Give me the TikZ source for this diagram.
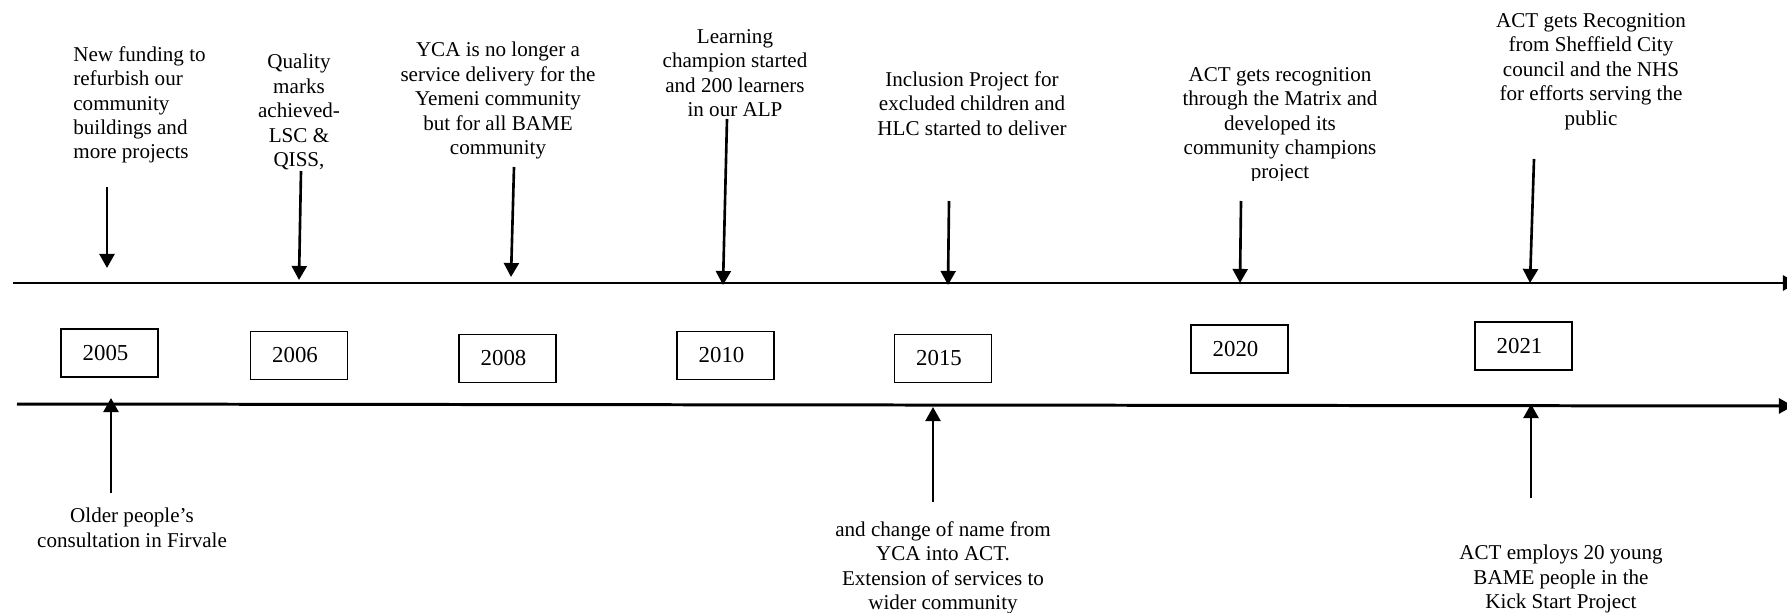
\documentclass[tikz,border=0pt]{standalone}
\usepackage{fontspec}
\setmainfont{Liberation Serif}
\usetikzlibrary{arrows.meta}
\tikzset{
  timeline/.style = {
    line width=1.7pt,
    -{Triangle[length=8pt,width=8.5pt]}
  },
  arrow/.style = {
    line width=1.5pt,
    -{Triangle[length=8pt,width=8.5pt]}
  },
  year/.style = {
    draw,
    line width=0.8pt,
    minimum width=1.94cm,
    minimum height=0.96cm,
    inner sep=0pt,
    font=\fontsize{13}{14}\selectfont,
    execute at end node={\hspace*{0.16cm}}
  },
  event/.style = {
    align=center,
    anchor=north,
    inner sep=0pt,
    font=\fontsize{12}{13.9}\selectfont
  },
}

\begin{document}
\begin{tikzpicture}[x=0.02cm, y=-0.02cm]
  \useasboundingbox (0,0) rectangle (1787,612);

  % the two time lines
  \coordinate (upper-start) at (13,283);
  \coordinate (upper-end) at (1797,283);
  \coordinate (lower-start) at (17,404);
  \coordinate (lower-end) at (1793,406);
  \draw [timeline] (upper-start) -- (upper-end);
  \draw [timeline] (lower-start) -- (lower-end);

  % years between the lines
  \foreach \yr/\x/\y in {2005/109.5/353, 2006/299/355.5, 2008/507.5/358.5,
                          2010/725.5/355.5, 2015/943/358.5, 2020/1239.5/349,
                          2021/1523.5/346}
    \node [year] (y\yr) at (\x,\y) {\yr};

  % events above
  \node [event, align=left, anchor=north west] (funding) at (73,46)
    {New funding to\\refurbish our\\community\\buildings and\\more projects};
  \node [event] (quality) at (299,54) {Quality\\marks\\achieved-\\LSC \&\\QISS,};
  \node [event] (yca) at (498,42)
    {YCA is no longer a\\service delivery for the\\Yemeni community\\but for all BAME\\community};
  \node [event] (learning) at (735,29)
    {Learning\\champion started\\and 200 learners\\in our ALP};
  \node [event] (inclusion) at (972,71)
    {Inclusion Project for\\excluded children and\\HLC started to deliver};
  \begin{scope}
    % last line is cut at its baseline
    \clip (1100,0) rectangle (1460,180);
    \node [event] (matrix) at (1280,67)
      {ACT gets recognition\\through the Matrix and\\developed its\\community champions\\project};
  \end{scope}
  \node [event] (sheffield) at (1591,13)
    {ACT gets Recognition\\from Sheffield City\\council and the NHS\\for efforts serving the\\public};

  % events below
  \node [event] (older) at (132,508) {Older people’s\\consultation in Firvale};
  \node [event] (rename) at (943,521)
    {and change of name from\\YCA into ACT.\\Extension of services to\\wider community};
  \node [event] (kickstart) at (1561,545)
    {ACT employs 20 young\\BAME people in the\\Kick Start Project};

  % arrow ends
  \coordinate (funding-tail) at (107,187);
  \coordinate (funding-tip) at (107,268);
  \coordinate (quality-tail) at (301,171);
  \coordinate (quality-tip) at (299,280);
  \coordinate (yca-tail) at (514,167);
  \coordinate (yca-tip) at (511,277);
  \coordinate (learning-tail) at (727,119);
  \coordinate (learning-tip) at (723,285);
  \coordinate (inclusion-tail) at (949,201);
  \coordinate (inclusion-tip) at (948,285);
  \coordinate (matrix-tail) at (1241,201);
  \coordinate (matrix-tip) at (1240,283);
  \coordinate (sheffield-tail) at (1534,159);
  \coordinate (sheffield-tip) at (1530,283);
  \coordinate (older-tail) at (111,493);
  \coordinate (older-tip) at (111,398);
  \coordinate (rename-tail) at (933,502);
  \coordinate (rename-tip) at (933,407);
  \coordinate (kickstart-tail) at (1531,498);
  \coordinate (kickstart-tip) at (1531,404);

  \foreach \ev in {funding,quality,yca,learning,inclusion,matrix,sheffield,older,rename,kickstart}
    \draw [arrow] (\ev-tail) -- (\ev-tip);
\end{tikzpicture}
\end{document}
